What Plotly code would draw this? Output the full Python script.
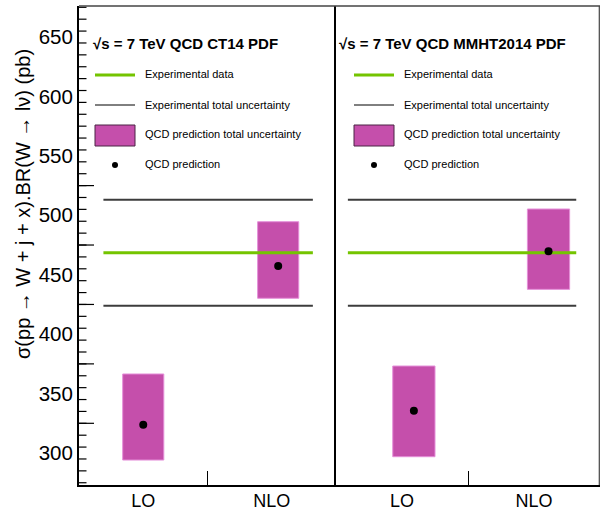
import plotly.graph_objects as go

# ---- data -------------------------------------------------------------
orders = ["LO", "NLO"]
order_pos = [0.5, 1.5]               # category centres on each panel axis

exp_xsec = 468.5                     # measured cross section (pb)
exp_unc = 44.5                       # total experimental uncertainty (pb)

ct14_x = [0.50, 1.55]
ct14_pred = [323.8, 457.3]
ct14_low = [294.1, 430.2]
ct14_high = [366.5, 494.6]

mmht_x = [0.59, 1.61]
mmht_pred = [335.6, 469.7]
mmht_low = [296.9, 437.7]
mmht_high = [373.2, 505.3]

ytick_vals = [300, 350, 400, 450, 500, 550, 600, 650]

# ---- styling ----------------------------------------------------------
W, H = 600, 512
ML, MR, MT, MB = 79, 0, 6, 27
PW, PH = W - ML - MR, H - MT - MB
SPLIT = 336                          # pixel column of the panel divider
d = (SPLIT - ML) / PW

GREEN = "#74c400"
MAGENTA = "#c54fab"
BOX_EDGE = "#e58fd9"
DARK = "#3c3c3c"
FONT = "Liberation Sans, Arial, sans-serif"


def px(x):
    return (x - ML) / PW


def py(y):
    return (H - MB - y) / PH


fig = go.Figure()

panels = [
    ("x", "y", ct14_x, ct14_pred, ct14_low, ct14_high, (0.19, 1.82)),
    ("x2", "y2", mmht_x, mmht_pred, mmht_low, mmht_high, (0.09, 1.82)),
]

for xa, ya, xs, pred, lo, hi, (l0, l1) in panels:
    # experimental band edges and central value
    for val, col, wid in [(exp_xsec + exp_unc, DARK, 2),
                          (exp_xsec - exp_unc, DARK, 2),
                          (exp_xsec, GREEN, 3)]:
        fig.add_trace(go.Scatter(x=[l0, l1], y=[val, val], mode="lines",
                                 line=dict(color=col, width=wid),
                                 xaxis=xa, yaxis=ya, showlegend=False,
                                 hoverinfo="skip"))
    # QCD prediction uncertainty boxes
    fig.add_trace(go.Bar(x=xs, base=lo, y=[h - l for h, l in zip(hi, lo)],
                         width=0.32, marker=dict(color=MAGENTA,
                                                 line=dict(color=BOX_EDGE, width=1)),
                         xaxis=xa, yaxis=ya, showlegend=False))
    # QCD central predictions
    fig.add_trace(go.Scatter(x=xs, y=pred, mode="markers",
                             marker=dict(color="black", size=8),
                             xaxis=xa, yaxis=ya, showlegend=False))

shapes = []
annotations = []

# y-axis tick marks: short ones every 10 pb, long ones every 50 pb
for v in range(275, 680, 10):
    shapes.append(dict(type="line", xref="paper", yref="y",
                       x0=px(79), x1=px(86.5), y0=v, y1=v,
                       line=dict(color="black", width=1.2)))
for v in [325, 375, 425, 475, 525]:
    shapes.append(dict(type="line", xref="paper", yref="y",
                       x0=px(79), x1=px(94), y0=v, y1=v,
                       line=dict(color="black", width=1.2)))

# top and right frame lines
shapes.append(dict(type="line", xref="paper", yref="paper", x0=0, x1=1,
                   y0=1, y1=1, line=dict(color="#444", width=1.5)))
shapes.append(dict(type="line", xref="paper", yref="paper", x0=px(599.3),
                   x1=px(599.3), y0=0, y1=1, line=dict(color="#444", width=1.2)))

# in-panel legends
legend_texts = ["Experimental data", "Experimental total uncertainty",
                "QCD prediction total uncertainty", "QCD prediction"]
titles = ["<b>\u221as = 7 TeV QCD CT14 PDF</b>",
          "<b>\u221as = 7 TeV QCD MMHT2014 PDF</b>"]
for (x0, title, tx) in [(95, titles[0], 91), (354, titles[1], 337)]:
    annotations.append(dict(xref="paper", yref="paper", x=px(tx), y=py(43),
                            text=title, showarrow=False, xanchor="left",
                            yanchor="middle",
                            font=dict(family=FONT, size=15, color="black")))
    shapes.append(dict(type="line", xref="paper", yref="paper",
                       x0=px(x0), x1=px(x0 + 40), y0=py(75), y1=py(75),
                       line=dict(color=GREEN, width=3)))
    shapes.append(dict(type="line", xref="paper", yref="paper",
                       x0=px(x0), x1=px(x0 + 40), y0=py(105), y1=py(105),
                       line=dict(color="black", width=1)))
    shapes.append(dict(type="rect", xref="paper", yref="paper",
                       x0=px(x0), x1=px(x0 + 40), y0=py(125), y1=py(146),
                       fillcolor=MAGENTA, line=dict(color="#4a2444", width=1)))
    shapes.append(dict(type="circle", xref="paper", yref="paper",
                       x0=px(x0 + 17), x1=px(x0 + 23), y0=py(162), y1=py(168),
                       fillcolor="black", line=dict(color="black", width=0)))
    for t, yy in zip(legend_texts, [74, 105, 134, 164]):
        annotations.append(dict(xref="paper", yref="paper", x=px(x0 + 48),
                                y=py(yy), text=t, showarrow=False,
                                xanchor="left", yanchor="middle",
                                font=dict(family=FONT, size=11, color="black")))

# y-axis title
annotations.append(dict(xref="paper", yref="paper", x=px(23), y=py(204),
                        text="\u03c3(pp \u2192 W + j + x).BR(W \u2192 l\u03bd) (pb)",
                        textangle=-90, showarrow=False, xanchor="center",
                        yanchor="middle",
                        font=dict(family=FONT, size=20, color="black")))

xaxis_common = dict(range=[0, 2], tickvals=order_pos, ticktext=orders,
                    ticks="", showgrid=False, zeroline=False,
                    showline=True, linecolor="black", linewidth=2,
                    tickfont=dict(family=FONT, size=18, color="black"),
                    ticklabelstandoff=-2,
                    minor=dict(tickvals=[1], ticks="inside", ticklen=14,
                               tickcolor="black", tickwidth=1.2))

fig.update_layout(
    width=W, height=H,
    margin=dict(l=ML, r=MR, t=MT, b=MB),
    paper_bgcolor="white", plot_bgcolor="white",
    barmode="overlay", showlegend=False,
    xaxis=dict(domain=[0, d], anchor="y", **xaxis_common),
    xaxis2=dict(domain=[d, 1], anchor="y2", **xaxis_common),
    yaxis=dict(range=[273.1, 676.1], anchor="x", tickvals=ytick_vals,
               ticks="", showgrid=False, zeroline=False,
               showline=True, linecolor="black", linewidth=2,
               tickfont=dict(family=FONT, size=20.5, color="black"),
               ticklabelstandoff=0),
    yaxis2=dict(range=[273.1, 676.1], anchor="x2", matches="y",
                showticklabels=False, ticks="", showgrid=False,
                zeroline=False, showline=True, linecolor="black",
                linewidth=2),
    shapes=shapes,
    annotations=annotations,
)

fig.write_html("out.html")
